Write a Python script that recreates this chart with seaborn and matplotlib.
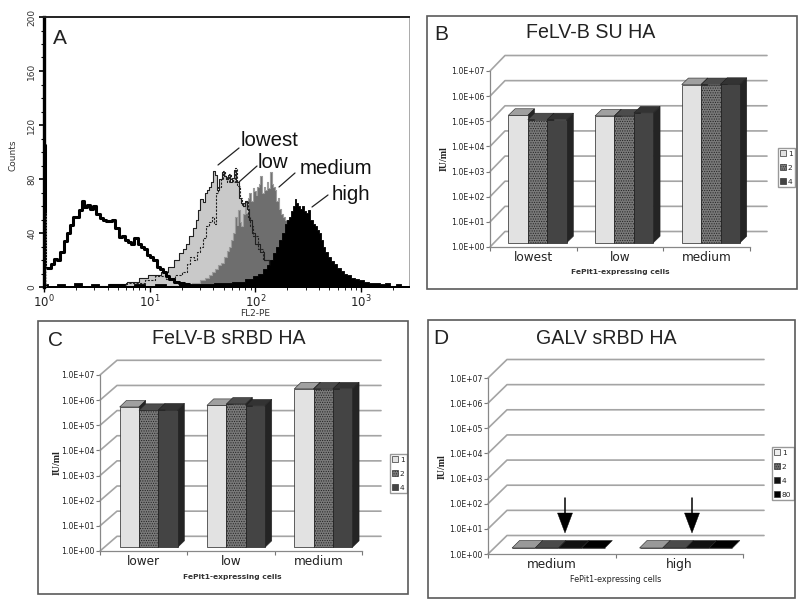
import numpy as np
import pandas as pd
import seaborn as sns
import matplotlib.pyplot as plt
from matplotlib.lines import Line2D
from matplotlib.patches import Polygon, Rectangle
from matplotlib.ticker import MultipleLocator, NullLocator, LogLocator
from matplotlib.transforms import Affine2D, IdentityTransform

# panel A histograms, x in decades of FL2-PE, y in counts
neg_x = [0, 0.02, 0.05, 0.08, 0.11, 0.14, 0.17, 0.2, 0.23, 0.26, 0.29, 0.32, 0.35, 0.37, 0.39, 0.42, 0.45, 0.48, 0.51, 0.54, 0.57, 0.6, 0.63, 0.66, 0.69, 0.72, 0.75, 0.78, 0.81, 0.84, 0.87, 0.9, 0.93, 0.96, 0.99, 1.02, 1.05, 1.08, 1.11, 1.14, 1.17, 1.2, 1.25, 1.3, 1.35, 1.4, 1.5, 1.7, 2.0, 2.5, 3.4]
neg_y = [105, 14, 14, 17, 21, 20, 26, 34, 40, 46, 52, 52, 57, 64, 59, 61, 58, 60, 54, 51, 50, 49, 49, 50, 44, 37, 38, 35, 33, 32, 36, 32, 30, 28, 24, 22, 20, 15, 13, 11, 8, 6, 4, 3, 2, 1, 1, 1, 0, 0, 0]
lowest_x = [0.5, 0.7, 0.85, 0.95, 1.02, 1.08, 1.14, 1.2, 1.25, 1.3, 1.33, 1.36, 1.39, 1.42, 1.45, 1.47, 1.49, 1.51, 1.53, 1.55, 1.57, 1.59, 1.61, 1.63, 1.65, 1.67, 1.69, 1.71, 1.73, 1.75, 1.77, 1.79, 1.81, 1.83, 1.85, 1.87, 1.89, 1.91, 1.93, 1.95, 1.98, 2.02, 2.06, 2.1, 2.15, 2.2, 2.3, 2.4]
lowest_y = [1, 2, 4, 7, 9, 9, 11, 15, 20, 25, 28, 32, 38, 44, 50, 57, 65, 63, 70, 72, 74, 78, 86, 83, 72, 80, 85, 82, 80, 83, 78, 81, 87, 78, 66, 62, 60, 64, 58, 50, 40, 32, 26, 20, 14, 10, 5, 2]
low_x = [0.6, 0.9, 1.0, 1.1, 1.2, 1.28, 1.33, 1.37, 1.4, 1.43, 1.46, 1.49, 1.52, 1.55, 1.58, 1.6, 1.62, 1.64, 1.66, 1.68, 1.7, 1.72, 1.74, 1.76, 1.78, 1.8, 1.82, 1.84, 1.86, 1.88, 1.9, 1.92, 1.94, 1.96, 2.0, 2.05, 2.1, 2.2, 2.3]
low_y = [1, 3, 5, 8, 6, 9, 11, 17, 22, 20, 26, 30, 36, 45, 48, 52, 47, 70, 74, 80, 86, 82, 78, 84, 80, 78, 88, 75, 66, 60, 62, 64, 52, 45, 38, 28, 20, 10, 4]
medium_x = [1.2, 1.35, 1.45, 1.5, 1.55, 1.58, 1.6, 1.63, 1.66, 1.69, 1.72, 1.74, 1.76, 1.78, 1.8, 1.815, 1.83, 1.845, 1.86, 1.875, 1.89, 1.905, 1.92, 1.935, 1.95, 1.965, 1.98, 1.995, 2.01, 2.025, 2.04, 2.055, 2.07, 2.085, 2.1, 2.115, 2.13, 2.145, 2.16, 2.175, 2.19, 2.205, 2.22, 2.235, 2.25, 2.27, 2.29, 2.32, 2.35, 2.4, 2.5, 2.6, 2.7, 2.85]
medium_y = [1, 2, 3, 5, 7, 9, 11, 13, 16, 18, 22, 27, 30, 35, 40, 52, 46, 57, 48, 45, 54, 62, 55, 66, 70, 64, 73, 71, 68, 74, 76, 82, 70, 74, 72, 78, 73, 85, 76, 74, 72, 64, 66, 58, 54, 52, 50, 45, 38, 30, 20, 12, 6, 2]
high_x = [0, 0.08, 0.16, 0.24, 0.32, 0.4, 0.48, 0.56, 0.64, 0.72, 0.8, 0.9, 1.0, 1.1, 1.2, 1.35, 1.5, 1.7, 1.85, 1.95, 2.0, 2.05, 2.09, 2.12, 2.15, 2.18, 2.21, 2.24, 2.27, 2.29, 2.31, 2.33, 2.35, 2.365, 2.38, 2.395, 2.41, 2.43, 2.45, 2.47, 2.49, 2.51, 2.53, 2.55, 2.57, 2.59, 2.61, 2.63, 2.65, 2.67, 2.7, 2.73, 2.76, 2.79, 2.82, 2.85, 2.88, 2.92, 2.96, 3.0, 3.05, 3.1, 3.15, 3.2, 3.25, 3.3, 3.35, 3.4, 3.45]
high_y = [2, 1, 2, 1, 3, 1, 2, 1, 2, 2, 1, 2, 1, 2, 1, 2, 2, 3, 4, 6, 8, 10, 13, 16, 20, 25, 30, 35, 40, 47, 50, 52, 56, 60, 65, 62, 60, 58, 60, 56, 55, 57, 50, 47, 45, 42, 40, 35, 30, 26, 22, 19, 17, 14, 12, 10, 9, 7, 6, 5, 4, 3, 3, 2, 3, 1, 2, 1, 1]
dot_x = [0.015, 0.015]
dot_y = [0, 55]

# bar panels, titres in IU/ml
b_cells = ['lowest', 'low', 'medium']
b_1 = [1.17e5, 1.1e5, 1.95e6]
b_2 = [7.8e4, 1.1e5, 1.95e6]
b_4 = [7.8e4, 1.45e5, 2.0e6]

c_cells = ['lower', 'low', 'medium']
c_1 = [3.8e5, 4.4e5, 2.0e6]
c_2 = [2.8e5, 5.0e5, 2.0e6]
c_4 = [2.9e5, 4.2e5, 2.0e6]

d_cells = ['medium', 'high']
d_1 = [1, 1]
d_2 = [1, 1]
d_4 = [1, 1]
d_80 = [1, 1]

tick_labels = ['1.0E+00', '1.0E+01', '1.0E+02', '1.0E+03', '1.0E+04', '1.0E+05', '1.0E+06', '1.0E+07']
tick_values = [1, 1e1, 1e2, 1e3, 1e4, 1e5, 1e6, 1e7]

sns.set_theme(style='white')
plt.rcParams['font.family'] = ['DejaVu Sans']
plt.rcParams['hatch.linewidth'] = 0.5

W, H = 800, 602
fig = plt.figure(figsize=(8, 6.02), dpi=100)


def box(x0, y0, x1, y1):
    return [x0 / W, 1 - y1 / H, (x1 - x0) / W, (y1 - y0) / H]


def text(x, y, s, **kw):
    fig.text(x / W, 1 - y / H, s, ha='center', va='center', **kw)


def frame(x0, y0, x1, y1):
    fig.add_artist(Rectangle((x0 / W, 1 - y1 / H), (x1 - x0) / W, (y1 - y0) / H, fill=False,
                             edgecolor='#5a5a5a', linewidth=1.2, transform=fig.transFigure))


def bar_panel(pos, cells, series, front, top, hatch, wall, shift, depth, width, legend_xy):
    ax = fig.add_axes(box(*pos))
    ax.set_yscale('log')
    names = list(series)
    df = pd.DataFrame({'cells': cells * len(names),
                       'series': [n for n in names for _ in cells],
                       'titre': [v for n in names for v in series[n]]})
    sns.barplot(data=df, x='cells', y='titre', hue='series', palette=front, width=width, gap=0,
                saturation=1, errorbar=None, ax=ax)
    n = len(cells)
    ax.set_xlim(-0.5, n - 0.5)
    ax.set_ylim(1, 1e7)
    ax.set_xlabel('')
    ax.set_ylabel('')
    ax.set_yticks(tick_values)
    ax.set_yticklabels(tick_labels)
    ax.yaxis.set_minor_locator(NullLocator())
    ax.set_xticks([i - 0.5 for i in range(n + 1)], minor=True)
    ax.tick_params(axis='y', labelsize=5.6, length=3, width=0.8, color='#777', left=True, pad=1, labelcolor='#222')
    ax.tick_params(axis='x', which='major', labelsize=8.7, length=0, pad=3, labelcolor='#222')
    ax.tick_params(axis='x', which='minor', length=3, width=0.8, color='#777', bottom=True)
    sns.despine(ax=ax)
    for side in ['left', 'bottom']:
        ax.spines[side].set_color('#888')
        ax.spines[side].set_linewidth(0.9)
    ax.patch.set_alpha(0)

    # back wall grid: diagonal from the tick, then along the wall
    wx, wy = wall
    for v in tick_values:
        xa, ya = ax.transData.transform((-0.5, v))
        xb, _ = ax.transData.transform((n - 0.5, v))
        ax.add_artist(Line2D([xa, xa + wx, xb + wx + 2], [ya, ya + wy, ya + wy], color='#a4a4a4', lw=1.2,
                             transform=IdentityTransform(), clip_on=False, zorder=1))

    # extrude the seaborn bars into pseudo 3d faces
    sx, sy = shift
    dx, dy = depth
    for k, cont in enumerate(ax.containers):
        for i, bar in enumerate(cont):
            bar.set_y(1)
            bar.set_height(series[names[k]][i] - 1)
            bar.set_edgecolor('#222')
            bar.set_linewidth(0.5)
            if hatch[k]:
                bar.set_hatch(hatch[k])
            bar.set_transform(bar.get_data_transform() + Affine2D().translate(sx, sy))
            bar.set_clip_on(False)
            z = 3 + k + i * 10
            bar.set_zorder(z + 0.5)
            x0, y0 = ax.transData.transform((bar.get_x(), 1))
            x1, y1 = ax.transData.transform((bar.get_x() + bar.get_width(), series[names[k]][i]))
            x0, x1, y0, y1 = x0 + sx, x1 + sx, y0 + sy, y1 + sy
            ax.add_artist(Polygon([(x0, y1), (x1, y1), (x1 + dx, y1 + dy), (x0 + dx, y1 + dy)], closed=True,
                                  facecolor=top[k], edgecolor='#222', lw=0.4, transform=IdentityTransform(),
                                  clip_on=False, zorder=z))
            if y1 > y0:
                ax.add_artist(Polygon([(x1, y0), (x1, y1), (x1 + dx, y1 + dy), (x1 + dx, y0 + dy)], closed=True,
                                      facecolor='#242424', edgecolor='#222', lw=0.4, transform=IdentityTransform(),
                                      clip_on=False, zorder=z))

    sns.move_legend(ax, 'upper left', bbox_to_anchor=(legend_xy[0] / W, 1 - legend_xy[1] / H),
                    bbox_transform=fig.transFigure, title=None, frameon=True, fancybox=False, edgecolor='#999',
                    fontsize=5.4, handlelength=0.8, handleheight=0.8, handletextpad=0.2, labelspacing=1.0,
                    borderpad=0.3, borderaxespad=0, framealpha=1)
    for patch, h in zip(ax.get_legend().get_patches(), hatch):
        patch.set_edgecolor('#333')
        patch.set_linewidth(0.5)
        if h:
            patch.set_hatch(h)
    return ax


# panel A
ax = fig.add_axes(box(44, 17, 409, 287))
ax.set_xscale('log')
for xs, ys, col in [(lowest_x, lowest_y, '#c9c9c9'), (medium_x, medium_y, '#6e6e6e')]:
    ax.fill_between(10 ** np.array(xs), ys, step='mid', color=col, lw=0.6, zorder=2)
sns.lineplot(x=10 ** np.array(medium_x), y=medium_y, drawstyle='steps-mid', color='#9c9c9c', lw=0.8, ax=ax, zorder=2.1)
sns.lineplot(x=10 ** np.array(lowest_x), y=lowest_y, drawstyle='steps-mid', color='#222', lw=0.8, ax=ax, zorder=3)
sns.lineplot(x=10 ** np.array(low_x), y=low_y, drawstyle='steps-mid', color='#222', lw=0.8, ls=(0, (2, 1.2)), ax=ax, zorder=3)
ax.fill_between(10 ** np.array(high_x), high_y, step='mid', color='black', lw=0.6, zorder=4)
sns.lineplot(x=10 ** np.array(neg_x), y=neg_y, drawstyle='steps-mid', color='black', lw=2.2, ax=ax, zorder=5)
sns.lineplot(x=10 ** np.array(dot_x), y=dot_y, color='#888', lw=0.8, ls=':', ax=ax, zorder=5, estimator=None)
ax.set_xlim(1, 10 ** 3.453)
ax.set_ylim(0, 200)
ax.yaxis.set_major_locator(MultipleLocator(40))
ax.yaxis.set_minor_locator(MultipleLocator(10))
ax.xaxis.set_major_locator(LogLocator(base=10))
ax.tick_params(axis='y', which='major', left=True, length=3.5, width=1.2, color='black', labelsize=6.5, pad=2, labelcolor='#333')
ax.tick_params(axis='y', which='minor', left=True, length=2, width=0.8, color='black')
ax.tick_params(axis='x', which='major', bottom=True, length=3.5, width=1.0, color='black', labelsize=8.5, pad=1, labelcolor='#222')
ax.tick_params(axis='x', which='minor', bottom=True, length=2, width=0.6, color='black')
for lab in ax.get_yticklabels():
    lab.set_rotation(90)
    lab.set_va('center')
ax.spines['left'].set_linewidth(2.4)
ax.spines['left'].set_color('black')
ax.spines['bottom'].set_linewidth(1.4)
ax.spines['bottom'].set_color('black')
ax.spines['top'].set_linewidth(1.4)
ax.spines['top'].set_color('#222')
ax.spines['right'].set_linewidth(0.7)
ax.spines['right'].set_color('#aaa')
text(13, 155, 'Counts', fontsize=6.5, rotation=90, color='#333')
text(255, 313, 'FL2-PE', fontsize=6.5, color='#333')
sans = 'Liberation Sans'
text(60, 38, 'A', fontsize=15, family=sans, color='#222')
text(270, 140, 'lowest', fontsize=14.7, family=sans, color='#111')
text(273, 163, 'low', fontsize=14.7, family=sans, color='#111')
text(336, 168, 'medium', fontsize=14.7, family=sans, color='#111')
text(351, 194, 'high', fontsize=14.7, family=sans, color='#111')
for x0, y0, x1, y1 in [(218, 165, 239, 148), (239, 182, 257, 166), (279, 187, 295, 173), (312, 207, 328, 195)]:
    fig.add_artist(Line2D([x0 / W, x1 / W], [1 - y0 / H, 1 - y1 / H], color='#222', lw=0.9))

# panel B
frame(427, 16, 797, 289)
bar_panel((490, 71, 750, 247), b_cells, {'1': b_1, '2': b_2, '4': b_4},
          ['#e2e2e2', '#7a7a7a', '#444444'], ['#a0a0a0', '#4c4c4c', '#333333'], [None, '.......', None],
          (15, 15.5), (4.2, 4.3), (6.7, 6.5), 0.673, (778, 148))
text(591, 33, 'FeLV-B SU HA', fontsize=14.1, family=sans, color='#222')
text(441, 35, 'B', fontsize=15, family=sans, color='#222')
text(620, 272, 'FePit1-expressing cells', fontsize=5.4, fontweight='bold', color='#333')
text(444, 159, 'IU/ml', fontsize=7.2, fontweight='bold', family='Liberation Serif', rotation=90, color='#222')

# panel C
frame(38, 321, 408, 594)
bar_panel((100, 375, 362, 551), c_cells, {'1': c_1, '2': c_2, '4': c_4},
          ['#e2e2e2', '#7a7a7a', '#444444'], ['#a0a0a0', '#4c4c4c', '#333333'], [None, '.......', None],
          (17, 14.7), (5, 3.7), (6.7, 6.5), 0.665, (390, 454))
text(229, 338, 'FeLV-B sRBD HA', fontsize=14.1, family=sans, color='#222')
text(55, 340, 'C', fontsize=15, family=sans, color='#222')
text(232, 577, 'FePit1-expressing cells', fontsize=5.4, fontweight='bold', color='#333')
text(57, 463, 'IU/ml', fontsize=7.2, fontweight='bold', family='Liberation Serif', rotation=90, color='#222')

# panel D
frame(428, 320, 795, 598)
bar_panel((488, 378, 743, 554), d_cells, {'1': d_1, '2': d_2, '4': d_4, '80': d_80},
          ['#eeeeee', '#6a6a6a', '#111111', '#000000'], ['#999999', '#4a4a4a', '#111111', '#000000'], [None, '.......', None, None],
          (19, 18.5), (6.7, 6), (7.5, 7.5), 0.728, (772, 447))
text(606, 338, 'GALV sRBD HA', fontsize=14.1, family=sans, color='#222')
text(441, 339, 'D', fontsize=15, family=sans, color='#222')
text(616, 579, 'FePit1-expressing cells', fontsize=5.8, color='#222')
text(442, 467, 'IU/ml', fontsize=7.2, fontweight='bold', family='Liberation Serif', rotation=90, color='#222')
for x in [565, 692]:
    fig.add_artist(Line2D([x / W, x / W], [1 - 498 / H, 1 - 515 / H], color='black', lw=1.1, zorder=20))
    fig.add_artist(Polygon([((x - 7.5) / W, 1 - 513 / H), ((x + 7.5) / W, 1 - 513 / H), (x / W, 1 - 533 / H)],
                           closed=True, facecolor='black', edgecolor='black', lw=0.3, zorder=20,
                           transform=fig.transFigure))

fig.savefig('out.png', dpi=100)
